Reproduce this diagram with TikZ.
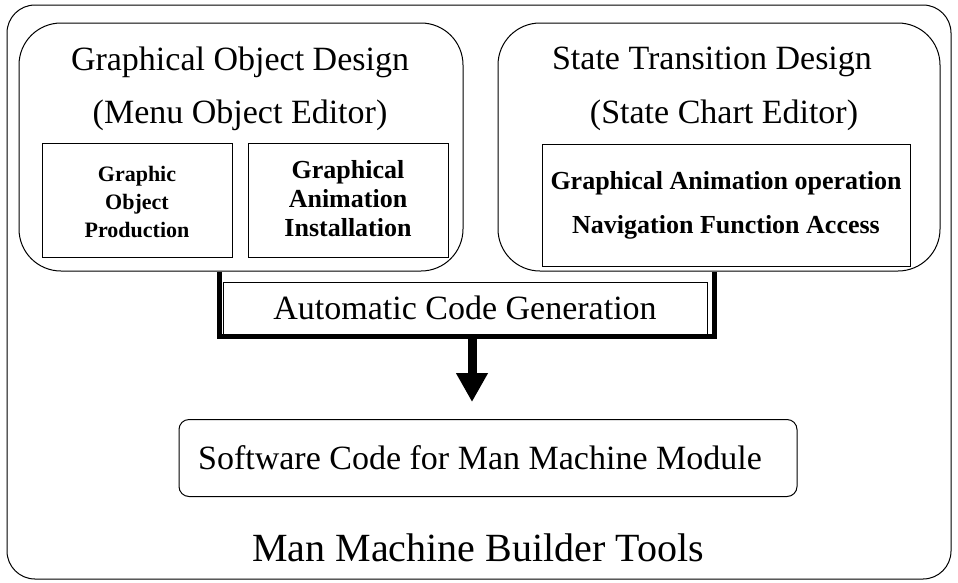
\documentclass[tikz,border=0pt]{standalone}
\usepackage{fontspec}
\setmainfont{Liberation Serif}
\usetikzlibrary{arrows.meta}
\begin{document}
\begin{tikzpicture}[x=1pt,y=-1pt,
  box/.style={draw=black, line width=1pt, inner sep=0pt},
  bigtext/.style={font=\fontsize{34}{40}\selectfont, inner sep=0pt},
  boldtext/.style={font=\fontsize{26}{30}\selectfont\bfseries, inner sep=0pt, align=center},
  ubar/.style={line width=5.5pt, line cap=butt, line join=miter},
  bigarrow/.style={line width=9pt, -{Triangle[width=30pt,length=29pt]}}
]
\useasboundingbox (0,0) rectangle (958,582);
\fill[white] (0,0) rectangle (958,582);
% outer box
\node[box, rounded corners=28, minimum width=944, minimum height=574] (outer) at (479,292) {};
% two design boxes
\node[box, rounded corners=42, minimum width=444, minimum height=248] (lbox) at (241,147) {};
\node[box, rounded corners=42, minimum width=442, minimum height=248] (rbox) at (719,147) {};
\node[bigtext] (lt1) at (240,62) {Graphical Object Design};
\node[bigtext] (lt2) at (240,115) {(Menu Object Editor)};
\node[bigtext] (rt1) at (712,62) {State Transition Design};
\node[bigtext] (rt2) at (724,115) {(State Chart Editor)};
% inner boxes
\node[box, minimum width=190, minimum height=114] (gop) at (137,200) {};
\node[boldtext, font=\fontsize{22}{28}\selectfont\bfseries] (goptext) at (137,202) {Graphic\\Object\\Production};
\node[box, minimum width=200, minimum height=114] (gai) at (348,200) {};
\node[boldtext, font=\fontsize{26}{29}\selectfont\bfseries] (gaitext) at (348,199) {Graphical\\Animation\\Installation};
\node[box, minimum width=368, minimum height=122] (gao) at (726,205) {};
\node[boldtext] (gao1) at (726,183) {Graphical Animation operation};
\node[boldtext] (gao2) at (726,227) {Navigation Function Access};
% automatic code generation
\node[box, minimum width=484, minimum height=52] (auto) at (465,308) {};
\node[bigtext] (autotext) at (auto.center) {Automatic Code Generation};
\draw[ubar] ([xshift=-3pt]auto.south west |- lbox.south) -- ([xshift=-3pt,yshift=-2pt]auto.south west)
  -- ([xshift=7pt,yshift=-2pt]auto.south east) -- ([xshift=7pt]auto.south east |- rbox.south);
% arrow to software code
\node[box, rounded corners=10, minimum width=618, minimum height=77] (sw) at (488,458) {};
\node[bigtext] (swtext) at (480,458) {Software Code for Man Machine Module};
\coordinate (astart) at (472,334);
\coordinate (aend) at (472,402);
\draw[bigarrow] (astart) -- (aend);
% title
\node[inner sep=0pt, font=\fontsize{40}{46}\selectfont] (title) at (478,548) {Man Machine Builder Tools};
\end{tikzpicture}
\end{document}
